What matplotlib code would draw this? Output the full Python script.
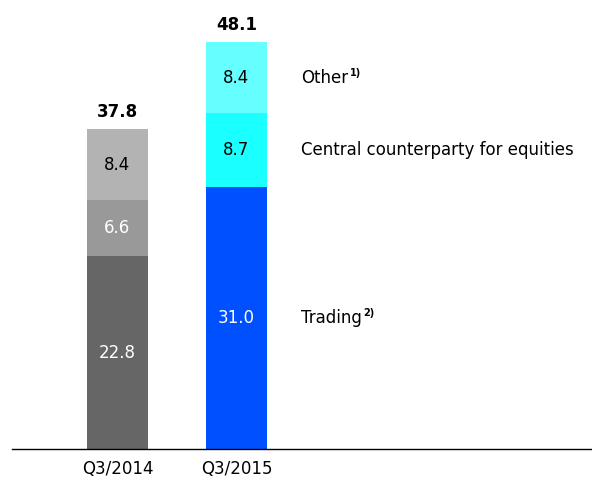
import matplotlib.pyplot as plt
import numpy as np

plt.rcParams['font.family'] = ['DejaVu Sans']

quarters = ['Q3/2014', 'Q3/2015']
trading = [22.8, 31.0]
ccp = [6.6, 8.7]
other = [8.4, 8.4]
totals = [37.8, 48.1]
names = ['Trading', 'Central counterparty for equities', 'Other']
series_sup = ['2)', '', '1)']

colors = [['#666666', '#999999', '#b3b3b3'],
          ['#0050ff', '#1affff', '#66ffff']]
text_colors = [['white', 'white', 'black'],
               ['white', 'black', 'black']]

fs = 12

fig = plt.figure(figsize=(5.92, 4.82), dpi=100)
ax = fig.add_axes([12 / 592, 1 - 449 / 482, 580 / 592, 449 / 482])

x = np.arange(len(quarters))
stack = np.array([trading, ccp, other])
bottom = np.zeros(len(quarters))
for i, vals in enumerate(stack):
    for j in range(len(quarters)):
        ax.bar(x[j], vals[j], bottom=bottom[j], width=0.51,
               color=colors[j][i], linewidth=0)
        ax.text(x[j], bottom[j] + vals[j] / 2, f'{vals[j]:.1f}',
                ha='center', va='center', fontsize=fs,
                color=text_colors[j][i])
    bottom += vals

for j, t in enumerate(totals):
    ax.text(x[j], t + 1.0, f'{t:.1f}', ha='center', va='bottom',
            fontsize=fs, fontweight='bold')

# series labels to the right of the second bar
mids = stack[:, 1].cumsum() - stack[:, 1] / 2
labels = []
for name, y in zip(names, mids):
    labels.append(ax.text(1.54, y, name, ha='left', va='center', fontsize=fs))

ax.set_xlim(-0.887, 3.99)
ax.set_ylim(0, 53.07)
ax.set_xticks(x)
ax.set_xticklabels(quarters, fontsize=fs)
ax.tick_params(axis='x', length=0, pad=8)
ax.set_yticks([])
for s in ['top', 'right', 'left']:
    ax.spines[s].set_visible(False)
ax.spines['bottom'].set_linewidth(1.0)

# footnote markers after the label text
fig.canvas.draw()
r = fig.canvas.get_renderer()
inv = ax.transData.inverted()
for t, sup in zip(labels, series_sup):
    if not sup:
        continue
    bb = t.get_window_extent(r)
    px, py = inv.transform((bb.x1 + 2, bb.y1 + 1))
    ax.text(px, py, sup, ha='left', va='top', fontsize=7, fontweight='bold')

fig.savefig('out.png', dpi=100)
